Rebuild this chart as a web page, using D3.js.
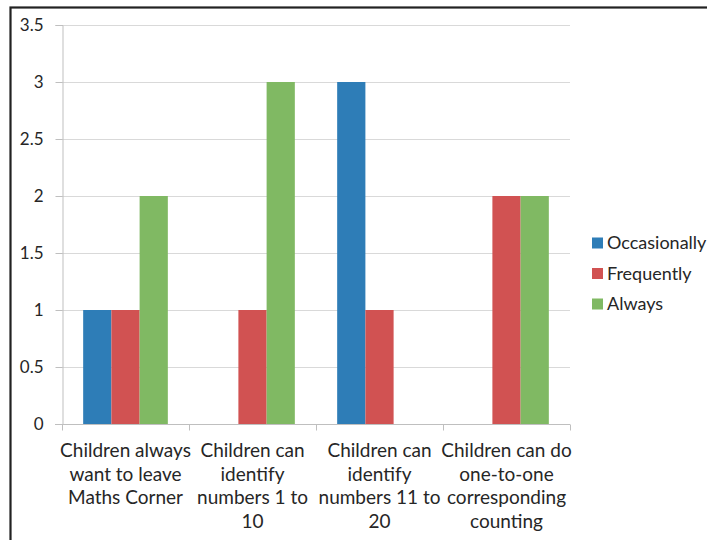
<!DOCTYPE html>
<html>
<head>
<meta charset="utf-8">
<script src="https://cdn.jsdelivr.net/npm/d3@7"></script>
<style>
  html, body { margin: 0; padding: 0; background: #fff; }
  svg { display: block; }
  text { font-family: Lato, "Open Sans", sans-serif; fill: #262626; }
</style>
</head>
<body>
<script>
// Observation counts per statement, grouped by frequency rating
const categories = [
  ["Children always", "want to leave", "Maths Corner"],
  ["Children can", "identify", "numbers 1 to", "10"],
  ["Children can", "identify", "numbers 11 to", "20"],
  ["Children can do", "one-to-one", "corresponding", "counting"]
];
const seriesNames = ["Occasionally", "Frequently", "Always"];
const occasionally = [1, 0, 3, 0];
const frequently = [1, 1, 1, 2];
const always = [2, 3, 0, 2];
const yTicks = [0, 0.5, 1, 1.5, 2, 2.5, 3, 3.5];
const colors = ["#2E7DB7", "#D15252", "#80B963"];

const values = [occasionally, frequently, always];
const W = 707, H = 540;
const plot = { left: 62, right: 570, top: 25, bottom: 424 };

const svg = d3.select("body").append("svg").attr("width", W).attr("height", H);

// outer frame
svg.append("rect")
  .attr("x", 10.5).attr("y", 7.5)
  .attr("width", 760).attr("height", 600)
  .attr("fill", "none").attr("stroke", "#222").attr("stroke-width", 2.2);

const x0 = d3.scaleBand().domain(d3.range(categories.length))
  .range([plot.left, plot.right]).paddingInner(0).paddingOuter(0);
// 150% gap between groups: 3 bars + 1.5 bar widths of gap per band
const x1 = d3.scaleBand().domain(d3.range(seriesNames.length))
  .range([0, x0.bandwidth()]).paddingOuter(0.75).paddingInner(0);
const y = d3.scaleLinear().domain([0, 3.5]).range([plot.bottom, plot.top]);

// gridlines
svg.append("g").selectAll("line").data(yTicks.filter(t => t > 0)).join("line")
  .attr("x1", plot.left).attr("x2", plot.right)
  .attr("y1", d => Math.round(y(d)) + 0.5).attr("y2", d => Math.round(y(d)) + 0.5)
  .attr("stroke", "#D9D9D9").attr("stroke-width", 1);

// y axis
const yAxis = svg.append("g")
  .attr("transform", `translate(${plot.left + 0.5},0)`)
  .call(d3.axisLeft(y).tickValues(yTicks).tickSize(7).tickPadding(12)
    .tickFormat(d3.format("")));
yAxis.select(".domain").attr("stroke", "#BFBFBF");
yAxis.selectAll(".tick line").attr("stroke", "#BFBFBF");
yAxis.selectAll(".tick text").attr("font-size", 17).attr("fill", "#262626")
  .style("font-family", "Lato, sans-serif");

// bars
const groups = svg.append("g").selectAll("g").data(categories).join("g")
  .attr("transform", (d, i) => `translate(${x0(i)},0)`);
groups.selectAll("rect")
  .data((d, i) => values.map((s, k) => ({ k, v: s[i] })))
  .join("rect")
  .attr("x", d => x1(d.k))
  .attr("width", x1.bandwidth())
  .attr("y", d => y(d.v))
  .attr("height", d => y(0) - y(d.v))
  .attr("fill", d => colors[d.k]);

// x axis
const xAxis = svg.append("g")
  .attr("transform", `translate(0,${Math.round(y(0)) + 0.5})`);
xAxis.append("line").attr("x1", plot.left - 7).attr("x2", plot.right)
  .attr("stroke", "#BFBFBF");
xAxis.selectAll("line.tick").data(d3.range(categories.length + 1)).join("line")
  .attr("class", "tick")
  .attr("x1", i => Math.round(plot.left + i * x0.bandwidth()) + 0.5)
  .attr("x2", i => Math.round(plot.left + i * x0.bandwidth()) + 0.5)
  .attr("y1", 0).attr("y2", 6).attr("stroke", "#BFBFBF");

// wrapped category labels
const lab = svg.append("g").selectAll("text").data(categories).join("text")
  .attr("text-anchor", "middle")
  .attr("font-size", 19)
  .attr("x", (d, i) => x0(i) + x0.bandwidth() / 2)
  .attr("y", plot.bottom + 33);
lab.selectAll("tspan").data(d => d).join("tspan")
  .attr("x", function () { return this.parentNode.getAttribute("x"); })
  .attr("dy", (d, i) => i === 0 ? 0 : 23.5)
  .text(d => d);

// legend
const legend = svg.append("g").selectAll("g").data(seriesNames).join("g")
  .attr("transform", (d, i) => `translate(592,${243 + i * 30.5})`);
legend.append("rect").attr("x", 0).attr("y", -5.5).attr("width", 11).attr("height", 11)
  .attr("fill", (d, i) => colors[i]);
legend.append("text").attr("x", 15).attr("y", 0).attr("dy", "0.35em")
  .attr("font-size", 18).text(d => d);
</script>
</body>
</html>
